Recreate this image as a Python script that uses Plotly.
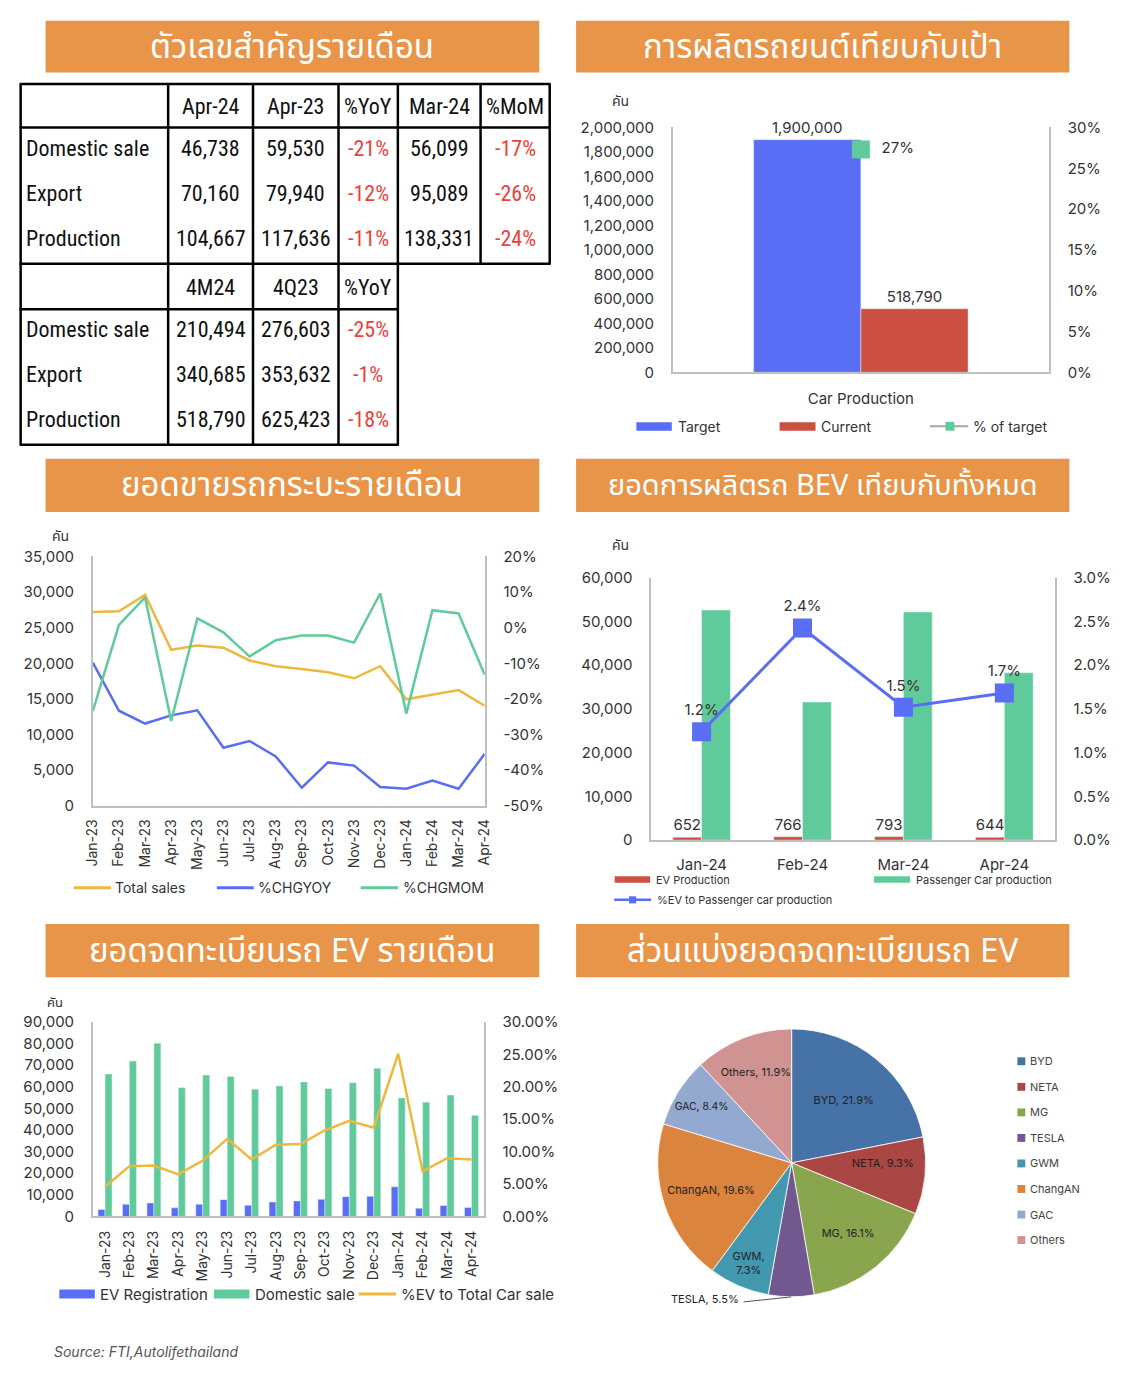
import plotly.graph_objects as go

# The page adds an 8px body margin; the figure is sized so that the page is 1124x1382.
PAGE_W, PAGE_H, OFF = 1124, 1382, 8
W, H = PAGE_W - 2 * OFF, PAGE_H - 2 * OFF


def X(px):
    return (px - OFF) / W


def Y(py):
    return 1 - (py - OFF) / H


FONT = "Inter, Noto Sans, sans-serif"
THAI = "Noto Sans Thai, Noto Sans, DejaVu Sans, sans-serif"
NARROW = "Liberation Sans Narrow, Roboto Condensed, Roboto, sans-serif"
TXT = "#333333"
ORANGE = "#E8954A"
BLUE = "#5A6DF5"
RED = "#CC5041"
GREEN = "#5FCB9A"
GOLD = "#EEB83F"
AXIS = "#BFBFBF"
PCT_RED = "#EE3F3A"

# ---------------- data ----------------
banner_titles = [
    "ตัวเลขสำคัญรายเดือน",
    "การผลิตรถยนต์เทียบกับเป้า",
    "ยอดขายรถกระบะรายเดือน",
    "ยอดการผลิตรถ BEV เทียบกับทั้งหมด",
    "ยอดจดทะเบียนรถ EV รายเดือน",
    "ส่วนแบ่งยอดจดทะเบียนรถ EV",
]

table_rows = ["Domestic sale", "Export", "Production"]
table1_cols = ["Apr-24", "Apr-23", "%YoY", "Mar-24", "%MoM"]
apr24 = [46738, 70160, 104667]
apr23 = [59530, 79940, 117636]
yoy_apr = [-21, -12, -11]
mar24 = [56099, 95089, 138331]
mom_apr = [-17, -26, -24]
table2_cols = ["4M24", "4Q23", "%YoY"]
ytd_4m24 = [210494, 340685, 518790]
q4_23 = [276603, 353632, 625423]
yoy_ytd = [-25, -1, -18]

prod_category = ["Car Production"]
prod_target = [1900000]
prod_current = [518790]

months = ["Jan-23", "Feb-23", "Mar-23", "Apr-23", "May-23", "Jun-23", "Jul-23", "Aug-23",
          "Sep-23", "Oct-23", "Nov-23", "Dec-23", "Jan-24", "Feb-24", "Mar-24", "Apr-24"]
pickup_sales = [27200, 27300, 29600, 21900, 22500, 22200, 20400, 19600,
                19200, 18750, 17900, 19600, 14950, 15650, 16250, 14050]
pickup_yoy = [-0.098, -0.233, -0.269, -0.246, -0.232, -0.337, -0.318, -0.361,
              -0.449, -0.378, -0.387, -0.447, -0.452, -0.429, -0.452, -0.354]
pickup_mom = [-0.234, 0.008, 0.085, -0.262, 0.026, -0.013, -0.081, -0.035,
              -0.022, -0.022, -0.042, 0.096, -0.241, 0.049, 0.040, -0.132]

bev_months = ["Jan-24", "Feb-24", "Mar-24", "Apr-24"]
ev_production = [652, 766, 793, 644]
passenger_production = [52630, 31580, 52180, 38270]

ev_registration = [3190, 5620, 6230, 3950, 5620, 7750, 5170, 6690,
                   7150, 7900, 9120, 9270, 13680, 3800, 5020, 4100]
domestic_sale = [65830, 71910, 80120, 59530, 65370, 64760, 58840, 60360,
                 62180, 59140, 61880, 68570, 54800, 52857, 56099, 46738]
ev_share = [0.0456, 0.0775, 0.0785, 0.0649, 0.0861, 0.1196, 0.0877, 0.1105,
            0.1115, 0.1328, 0.1475, 0.1368, 0.2508, 0.0694, 0.0897, 0.0877]

pie_labels = ["BYD", "NETA", "MG", "TESLA", "GWM", "ChangAN", "GAC", "Others"]
pie_values = [21.9, 9.3, 16.1, 5.5, 7.3, 19.6, 8.4, 11.9]
pie_colors = ["#4572A7", "#AA4643", "#89A54E", "#71588F", "#4198AF", "#DB843D", "#93A9CF", "#D19392"]

# ---------------- helpers ----------------
shapes = []
annotations = []


def ann(x, y, text, size=14, color=TXT, xanchor="left", family=FONT, yanchor="middle", **kw):
    annotations.append(dict(x=X(x), y=Y(y), xref="paper", yref="paper", text=text,
                            showarrow=False, xanchor=xanchor, yanchor=yanchor,
                            font=dict(size=size, color=color, family=family, **kw)))


def rect(x0, y0, x1, y1, color):
    shapes.append(dict(type="rect", xref="paper", yref="paper", x0=X(x0), x1=X(x1),
                       y0=Y(y1), y1=Y(y0), fillcolor=color, line=dict(width=0)))


def line(x0, y0, x1, y1, color="black", width=2.5):
    shapes.append(dict(type="line", xref="paper", yref="paper", x0=X(x0), x1=X(x1),
                       y0=Y(y0), y1=Y(y1), line=dict(color=color, width=width)))


# banners
banner_boxes = [(37, 10.7, 538.4, 63.3), (575.8, 10.7, 1076.8, 63.3),
                (37, 455, 538.4, 509), (575.8, 455, 1076.8, 509),
                (37, 926.7, 538.4, 980.7), (575.8, 926.7, 1076.8, 980.7)]
banner_sizes = [33, 33, 33, 29, 33, 33]
for (x0, y0, x1, y1), t, s in zip(banner_boxes, banner_titles, banner_sizes):
    rect(x0, y0, x1, y1, ORANGE)
    ann((x0 + x1) / 2, (y0 + y1) / 2 + 1, t, size=s, color="white", xanchor="center", family=THAI)

# ---------------- table ----------------
colx = [11.7, 161.5, 247.7, 334.5, 394.8, 478.8, 549]
rowy = [75, 119, 257.3, 303.3, 440.7]
for i, yy in enumerate(rowy):
    line(colx[0] - 1, yy, colx[-1] + 1 if i <= 2 else colx[4] + 1, yy)
for j, xx in enumerate(colx):
    line(xx, rowy[0], xx, rowy[-1] if j <= 4 else rowy[2])

ccent = [(colx[k] + colx[k + 1]) / 2 for k in range(1, 6)]
for k, c in enumerate(table1_cols):
    ann(ccent[k], 97.7, c, size=22, family=NARROW, color="#111", xanchor="center")
for k, c in enumerate(table2_cols):
    ann(ccent[k], 281.7, c, size=22, family=NARROW, color="#111", xanchor="center")
body1_y = [140, 185.7, 231.7]
body2_y = [323.7, 369.3, 415.3]
for r in range(3):
    ann(15, body1_y[r], table_rows[r], size=22, family=NARROW, color="#111")
    ann(15, body2_y[r], table_rows[r], size=22, family=NARROW, color="#111")
    vals1 = [f"{apr24[r]:,}", f"{apr23[r]:,}", f"{yoy_apr[r]}%", f"{mar24[r]:,}", f"{mom_apr[r]}%"]
    for k, v in enumerate(vals1):
        ann(ccent[k], body1_y[r], v, size=22, family=NARROW,
            color=PCT_RED if "%" in v else "#111", xanchor="center")
    vals2 = [f"{ytd_4m24[r]:,}", f"{q4_23[r]:,}", f"{yoy_ytd[r]}%"]
    for k, v in enumerate(vals2):
        ann(ccent[k], body2_y[r], v, size=22, family=NARROW,
            color=PCT_RED if "%" in v else "#111", xanchor="center")

# ---------------- figure ----------------
fig = go.Figure()

# Chart 2: production vs target
fig.add_trace(go.Bar(x=prod_category, y=prod_target, marker_color=BLUE, xaxis="x", yaxis="y",
                     texttemplate="%{y:,.0f}", textposition="outside", cliponaxis=False,
                     textfont=dict(size=15, color=TXT, family=FONT), showlegend=False))
fig.add_trace(go.Bar(x=prod_category, y=prod_current, marker_color=RED, xaxis="x", yaxis="y",
                     texttemplate="%{y:,.0f}", textposition="outside", cliponaxis=False,
                     textfont=dict(size=15, color=TXT, family=FONT), showlegend=False))
fig.add_trace(go.Scatter(x=prod_category, y=[c / t for c, t in zip(prod_current, prod_target)],
                         mode="markers+text", xaxis="x", yaxis="y2",
                         marker=dict(symbol="square", size=18, color=GREEN),
                         texttemplate="  %{y:.0%}", textposition="middle right", cliponaxis=False,
                         textfont=dict(size=15, color=TXT, family=FONT), showlegend=False))

# Chart 3: pickup sales
fig.add_trace(go.Scatter(x=months, y=pickup_sales, mode="lines", line=dict(color=GOLD, width=2.5),
                         xaxis="x2", yaxis="y3", showlegend=False))
fig.add_trace(go.Scatter(x=months, y=pickup_yoy, mode="lines", line=dict(color=BLUE, width=2.5),
                         xaxis="x2", yaxis="y4", showlegend=False))
fig.add_trace(go.Scatter(x=months, y=pickup_mom, mode="lines", line=dict(color=GREEN, width=2.5),
                         xaxis="x2", yaxis="y4", showlegend=False))

# Chart 4: BEV production
fig.add_trace(go.Bar(x=bev_months, y=ev_production, marker_color=RED, xaxis="x3", yaxis="y5",
                     texttemplate="%{y:,}", textposition="outside", cliponaxis=False,
                     textfont=dict(size=15, color=TXT, family=FONT), showlegend=False))
fig.add_trace(go.Bar(x=bev_months, y=passenger_production, marker_color=GREEN, xaxis="x3", yaxis="y5",
                     showlegend=False))
fig.add_trace(go.Scatter(x=bev_months, y=[e / p for e, p in zip(ev_production, passenger_production)],
                         mode="lines+markers+text", xaxis="x3", yaxis="y6",
                         line=dict(color=BLUE, width=3),
                         marker=dict(symbol="square", size=19, color=BLUE),
                         texttemplate="%{y:.1%}", textposition="top center", cliponaxis=False,
                         textfont=dict(size=15, color=TXT, family=FONT), showlegend=False))

# Chart 5: EV registration
fig.add_trace(go.Bar(x=months, y=ev_registration, marker_color=BLUE, xaxis="x4", yaxis="y7",
                     showlegend=False))
fig.add_trace(go.Bar(x=months, y=domestic_sale, marker_color=GREEN, xaxis="x4", yaxis="y7",
                     showlegend=False))
fig.add_trace(go.Scatter(x=months, y=ev_share, mode="lines", line=dict(color=GOLD, width=2.5),
                         xaxis="x4", yaxis="y8", showlegend=False))

# Chart 6: pie
pie_text = [f"{l},<br>{v}%" if l == "GWM" else f"{l}, {v}%" for l, v in zip(pie_labels, pie_values)]
pie_pos = ["none" if l == "TESLA" else "inside" for l in pie_labels]
cx, cy, R = 794.7, 1169, 136
fig.add_trace(go.Pie(labels=pie_labels, values=pie_values, sort=False, direction="clockwise",
                     rotation=0, marker=dict(colors=pie_colors, line=dict(color="white", width=0.8)),
                     text=pie_text, textinfo="text", textposition=pie_pos,
                     insidetextorientation="horizontal",
                     textfont=dict(size=11, color="#222", family=FONT),
                     domain=dict(x=[X(cx - R), X(cx + R)], y=[Y(cy + R), Y(cy - R)]),
                     showlegend=False, hoverinfo="label+percent"))
tesla_i = pie_labels.index("TESLA")
ann(743, 1306.7, f"{pie_labels[tesla_i]}, {pie_values[tesla_i]}%", size=11, color="#222", xanchor="right")
line(746, 1310, 794, 1305, color="#555", width=1)

# pie legend
for i, (l, c) in enumerate(zip(pie_labels, pie_colors)):
    yy = 1066 + i * 25.9
    rect(1024, yy - 4, 1032, yy + 4, c)
    ann(1035, yy, l, size=11, color="#444")

# ---- manual legends ----
# chart 2
rect(637, 418, 673, 426.5, BLUE); ann(677, 422, "Target", size=14)
rect(782.5, 418, 819, 426.5, RED); ann(823, 422, "Current", size=14)
line(935, 422, 974, 422, color="#A6A6A6", width=2); rect(951, 417.5, 960, 426.5, GREEN)
ann(977, 422, "% of target", size=14)
# chart 3
line(65.7, 890, 103.4, 890, color=GOLD, width=3); ann(106, 890, "Total sales", size=14)
line(211, 890, 248.4, 890, color=BLUE, width=3); ann(251, 890, "%CHGYOY", size=14)
line(357, 890, 395, 890, color=GREEN, width=3); ann(398, 890, "%CHGMOM", size=14)
# chart 4
rect(615, 878.3, 651, 885, RED); ann(655, 881.7, "EV Production", size=11)
rect(878.4, 878.3, 915, 885, GREEN); ann(918.5, 881.7, "Passenger Car production", size=11)
line(614.5, 902.3, 652, 902.3, color=BLUE, width=2.5); rect(629.6, 898.7, 636.8, 905.9, BLUE)
ann(655.5, 902.3, "%EV to Passenger car production", size=11)
# chart 5
rect(51, 1297.5, 87, 1306.5, BLUE); ann(90.5, 1302, "EV Registration", size=15)
rect(208, 1297.5, 244, 1306.5, GREEN); ann(247.5, 1302, "Domestic sale", size=15)
line(355, 1302, 393, 1302, color=GOLD, width=3); ann(396, 1302, "%EV to Total Car sale", size=15)

# unit labels and source
ann(621, 93, "คัน", size=14, xanchor="center", family=THAI)
ann(52, 534, "คัน", size=14, xanchor="center", family=THAI)
ann(620.6, 543, "คัน", size=14, xanchor="center", family=THAI)
ann(47, 1007, "คัน", size=13, xanchor="center", family=THAI)
ann(44, 1360, "Source: FTI,Autolifethailand", size=14, color="#555", style="italic")


# ---------------- axes ----------------
def xax(x0, x1, anchor, angle=0, ticklen=8, size=15):
    return dict(domain=[X(x0), X(x1)], anchor=anchor, showline=True, linecolor=AXIS, linewidth=1.5,
                showgrid=False, zeroline=False, ticks="outside", ticklen=ticklen,
                tickcolor="rgba(0,0,0,0)", tickangle=angle, type="category",
                tickfont=dict(size=size, color=TXT, family=FONT))


def yax(y0, y1, anchor, rng, vals, texts, side="left", overlaying=None, size=15):
    d = dict(anchor=anchor, range=rng, tickvals=vals, ticktext=texts, side=side, showline=True,
             linecolor=AXIS, linewidth=1.5, showgrid=False, zeroline=False, ticks="outside",
             ticklen=14, tickcolor="rgba(0,0,0,0)", tickfont=dict(size=size, color=TXT, family=FONT))
    if overlaying:
        d["overlaying"] = overlaying
    else:
        d["domain"] = [Y(y1), Y(y0)]
    return d


t2_vals = list(range(0, 2000001, 200000))
t2p_vals = [i / 100 for i in range(0, 31, 5)]
t3_vals = list(range(0, 35001, 5000))
t3p_vals = [i / 100 for i in range(-50, 21, 10)]
t4_vals = list(range(0, 60001, 10000))
t4p_vals = [i / 1000 for i in range(0, 31, 5)]
t5_vals = list(range(0, 90001, 10000))
t5p_vals = [i / 100 for i in range(0, 31, 5)]

fig.update_layout(
    width=W, height=H, margin=dict(l=0, r=0, t=0, b=0, pad=0),
    paper_bgcolor="white", plot_bgcolor="white",
    barmode="group", bargap=0.43, bargroupgap=0,
    font=dict(family=FONT, color=TXT),
    shapes=shapes, annotations=annotations,
    xaxis=xax(674, 1056, "y", ticklen=12),
    yaxis=yax(119, 367.3, "x", [0, 2000000], t2_vals, [f"{v:,}" for v in t2_vals]),
    yaxis2=yax(0, 0, "x", [0, 0.30], t2p_vals, [f"{round(v*100)}%" for v in t2p_vals],
               side="right", overlaying="y"),
    xaxis2=xax(85, 483, "y3", angle=-90, ticklen=6, size=14),
    yaxis3=yax(554, 807, "x2", [0, 35000], t3_vals, [f"{v:,}" for v in t3_vals]),
    yaxis4=yax(0, 0, "x2", [-0.5, 0.2], t3p_vals, [f"{round(v*100)}%" for v in t3p_vals],
               side="right", overlaying="y3"),
    xaxis3=xax(652, 1062, "y5", ticklen=10),
    yaxis5=yax(575.7, 841.7, "x3", [0, 60000], t4_vals, [f"{v:,}" for v in t4_vals]),
    yaxis6=yax(0, 0, "x3", [0, 0.03], t4p_vals, [f"{v*100:.1f}%" for v in t4p_vals],
               side="right", overlaying="y5"),
    xaxis4=xax(85, 482, "y7", angle=-90, ticklen=7, size=14),
    yaxis7=yax(1026, 1223.3, "x4", [0, 90000], t5_vals, [f"{v:,}" for v in t5_vals]),
    yaxis8=yax(0, 0, "x4", [0, 0.30], t5p_vals, [f"{v*100:.2f}%" for v in t5p_vals],
               side="right", overlaying="y7"),
)

fig.write_html("out.html", config={"displayModeBar": False})
